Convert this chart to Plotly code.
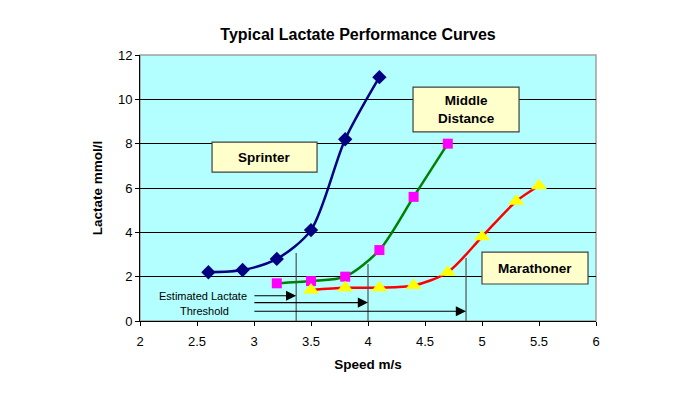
import plotly.graph_objects as go

# Data
sprinter_speed = [2.6, 2.9, 3.2, 3.5, 3.8, 4.1]
sprinter_lactate = [2.2, 2.3, 2.8, 4.1, 8.2, 11.0]
middle_speed = [3.2, 3.5, 3.8, 4.1, 4.4, 4.7]
middle_lactate = [1.7, 1.8, 2.0, 3.2, 5.6, 8.0]
marathon_speed = [3.5, 3.8, 4.1, 4.4, 4.7, 5.0, 5.3, 5.5]
marathon_lactate = [1.4, 1.5, 1.5, 1.6, 2.2, 3.8, 5.4, 6.1]
threshold_speed = [3.37, 4.0, 4.86]
threshold_top = [3.07, 2.57, 2.84]
arrow_level = [1.14, 0.83, 0.44]
arrow_start = 2.99
x_ticks = [2, 2.5, 3, 3.5, 4, 4.5, 5, 5.5, 6]
y_ticks = [0, 2, 4, 6, 8, 10, 12]

FONT = "Arial, Liberation Sans, sans-serif"

fig = go.Figure()

# lines
fig.add_trace(go.Scatter(x=sprinter_speed, y=sprinter_lactate, mode="lines",
                         line=dict(color="#000080", width=2.5, shape="spline", smoothing=0.8),
                         showlegend=False, hoverinfo="skip"))
fig.add_trace(go.Scatter(x=middle_speed, y=middle_lactate, mode="lines",
                         line=dict(color="#008000", width=2.5, shape="spline", smoothing=0.8),
                         showlegend=False, hoverinfo="skip"))
fig.add_trace(go.Scatter(x=marathon_speed, y=marathon_lactate, mode="lines",
                         line=dict(color="#FF0000", width=2.5, shape="spline", smoothing=0.8),
                         showlegend=False, hoverinfo="skip"))
# markers
fig.add_trace(go.Scatter(x=sprinter_speed, y=sprinter_lactate, mode="markers", name="Sprinter",
                         marker=dict(symbol="diamond", size=11, color="#000080"), showlegend=False))
fig.add_trace(go.Scatter(x=middle_speed, y=middle_lactate, mode="markers", name="Middle Distance",
                         marker=dict(symbol="square", size=10, color="#FF00FF"), showlegend=False))
fig.add_trace(go.Scatter(x=marathon_speed, y=marathon_lactate, mode="markers", name="Marathoner",
                         marker=dict(symbol="triangle-up", size=14, color="#FFFF00"), showlegend=False))

shapes = []
# plot border (top/right gray)
shapes.append(dict(type="rect", xref="paper", yref="paper", x0=0, x1=1, y0=0, y1=1,
                   line=dict(color="#A0A0A0", width=1.5), layer="below"))
# threshold vertical lines
for xs, top in zip(threshold_speed, threshold_top):
    shapes.append(dict(type="line", x0=xs, x1=xs, y0=0, y1=top,
                       line=dict(color="#505050", width=1.2)))

# label boxes
boxes = [
    ("Sprinter", 2.632, 3.553, 6.72, 8.07),
    ("Middle<br>Distance", 4.395, 5.325, 8.53, 10.55),
    ("Marathoner", 5.0, 5.93, 1.67, 3.11),
]
annotations = []
for text, x0, x1, y0, y1 in boxes:
    shapes.append(dict(type="rect", x0=x0, x1=x1, y0=y0, y1=y1,
                       fillcolor="#FFFFCC", line=dict(color="#404040", width=1.2)))
    annotations.append(dict(x=(x0 + x1) / 2, y=(y0 + y1) / 2, text="<b>" + text + "</b>",
                            showarrow=False, font=dict(family=FONT, size=13.5, color="black"),
                            xanchor="center", yanchor="middle"))

# arrows
for xs, yl in zip(threshold_speed, arrow_level):
    annotations.append(dict(x=xs, y=yl, ax=arrow_start, ay=yl, axref="x", ayref="y",
                            xref="x", yref="y", showarrow=True, arrowhead=2, arrowsize=1.7,
                            arrowwidth=1.2, arrowcolor="black", text=""))

annotations.append(dict(x=2.553, y=1.13, text="Estimated Lactate", showarrow=False,
                        font=dict(family=FONT, size=11, color="black")))
annotations.append(dict(x=2.57, y=0.45, text="Threshold", showarrow=False,
                        font=dict(family=FONT, size=11, color="black")))

fig.update_layout(
    width=700, height=394,
    margin=dict(l=132, r=112, t=47, b=81, autoexpand=False),
    paper_bgcolor="white",
    plot_bgcolor="#B3FFFF",
    title=dict(text="<b>Typical Lactate Performance Curves</b>", x=350 / 700, xanchor="center",
               y=1 - 26 / 394, yanchor="middle",
               font=dict(family=FONT, size=16, color="black")),
    shapes=shapes,
    annotations=annotations,
    xaxis=dict(range=[2, 6], tickvals=x_ticks, ticktext=[str(t) for t in x_ticks],
               showgrid=False, zeroline=False, showline=True, linecolor="black", linewidth=1,
               ticks="outside", ticklen=4, tickcolor="black", ticklabelstandoff=4,
               tickfont=dict(family=FONT, size=13, color="black"),
               title=dict(text="<b>Speed m/s</b>", font=dict(family=FONT, size=13.5, color="black"),
                          standoff=11)),
    yaxis=dict(range=[0, 12], tickvals=y_ticks,
               showgrid=True, gridcolor="black", gridwidth=1, zeroline=False,
               showline=True, linecolor="black", linewidth=1,
               ticks="outside", ticklen=4, tickcolor="black",
               tickfont=dict(family=FONT, size=13, color="black"),
               title=dict(text="<b>Lactate mmol/l</b>", font=dict(family=FONT, size=13.5, color="black"),
                          standoff=12)),
)

fig.write_html("out.html")
